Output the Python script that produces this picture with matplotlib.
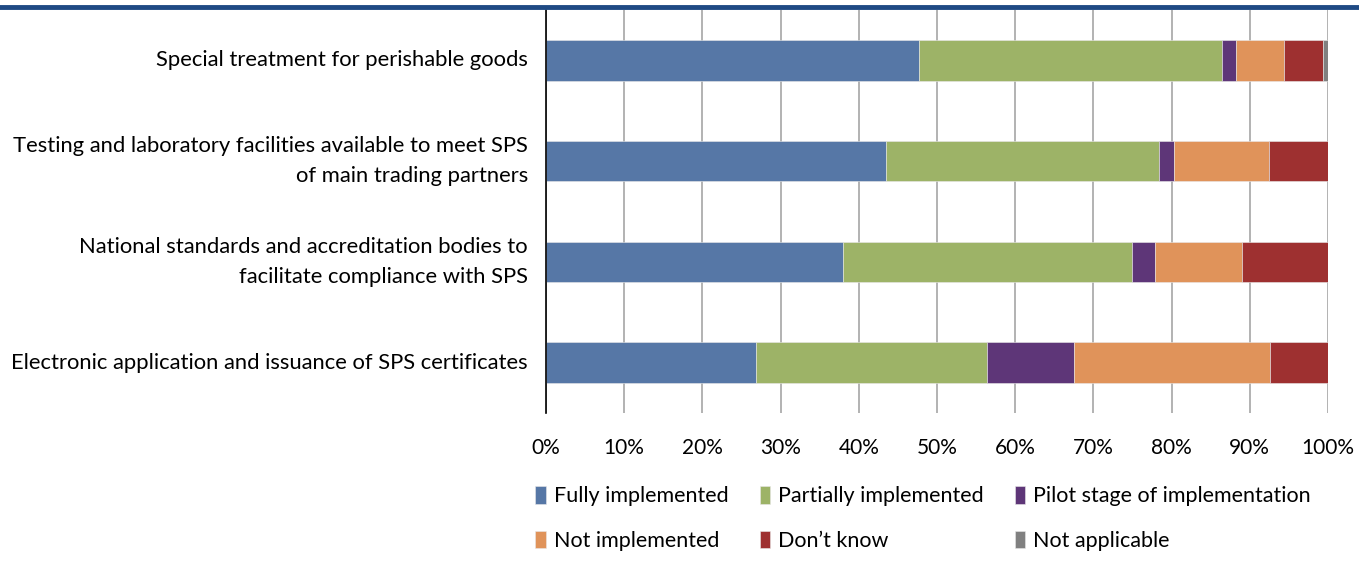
import matplotlib
matplotlib.use("Agg")
import matplotlib.pyplot as plt
from matplotlib.lines import Line2D
import numpy as np

plt.rcParams['font.family'] = ['Lato', 'DejaVu Sans']

# Категории (сверху вниз)
categories = [
    "Special treatment for perishable goods",
    "Testing and laboratory facilities available to meet SPS\nof main trading partners",
    "National standards and accreditation bodies to\nfacilitate compliance with SPS",
    "Electronic application and issuance of SPS certificates",
]

# Доли, %
fully = [47.7, 43.5, 38.0, 26.9]
partially = [38.7, 34.9, 36.9, 29.5]
pilot = [1.8, 1.9, 3.0, 11.1]
not_impl = [6.2, 12.2, 11.1, 25.1]
dont_know = [4.9, 7.5, 11.0, 7.4]
not_appl = [0.7, 0.0, 0.0, 0.0]

series = [
    ("Fully implemented", fully, "#5677A6"),
    ("Partially implemented", partially, "#9DB367"),
    ("Pilot stage of implementation", pilot, "#5E3678"),
    ("Not implemented", not_impl, "#E0935A"),
    ("Don\u2019t know", dont_know, "#9E3030"),
    ("Not applicable", not_appl, "#808080"),
]

xticks = np.arange(0, 101, 10)
xtick_labels = [f"{v}%" for v in xticks]

fig = plt.figure(figsize=(13.59, 5.65), dpi=100)
ax = fig.add_axes([546 / 1359, 1 - 413 / 565, 782 / 1359, 403 / 565])

y = np.arange(len(categories))
left = np.zeros(len(categories))
handles = {}
for name, vals, color in series:
    vals = np.array(vals)
    b = ax.barh(y, vals, left=left, height=0.4, color=color,
                edgecolor="#e8e8e8", linewidth=0.4, label=name, zorder=3)
    handles[name] = b
    left += vals

ax.set_xlim(0, 100)
ax.set_ylim(3.5, -0.5)
ax.set_xticks(xticks)
ax.set_xticklabels(xtick_labels, fontsize=15)
ax.set_yticks(y)
ax.set_yticklabels(categories, fontsize=15.8, ha="right", va="center",
                   multialignment="right", linespacing=1.6)
ax.tick_params(axis="x", length=0, pad=18)
ax.tick_params(axis="y", length=0, pad=13)
ax.grid(axis="x", color="#a6a6a6", linewidth=1.2, zorder=0)
for s in ["top", "right", "bottom"]:
    ax.spines[s].set_visible(False)
ax.spines["left"].set_color("black")
ax.spines["left"].set_linewidth(1.2)
ax.spines["left"].set_zorder(4)

# верхняя синяя линия
fig.add_artist(Line2D([0, 1], [1 - 7 / 565, 1 - 7 / 565], color="#1F4A84",
                      linewidth=3.5, transform=fig.transFigure))

# Легенда: 3 колонки, порядок по колонкам
order = ["Fully implemented", "Not implemented", "Partially implemented",
         "Don\u2019t know", "Pilot stage of implementation", "Not applicable"]
fig.legend([handles[n] for n in order], order, ncol=3, frameon=False,
           fontsize=15.5, loc="upper left", bbox_to_anchor=(516 / 1359, 1 - 467 / 565),
           handlelength=0.5, handleheight=0.85, handletextpad=0.35,
           columnspacing=1.45, labelspacing=1.15)

fig.savefig("out.png", dpi=100)
